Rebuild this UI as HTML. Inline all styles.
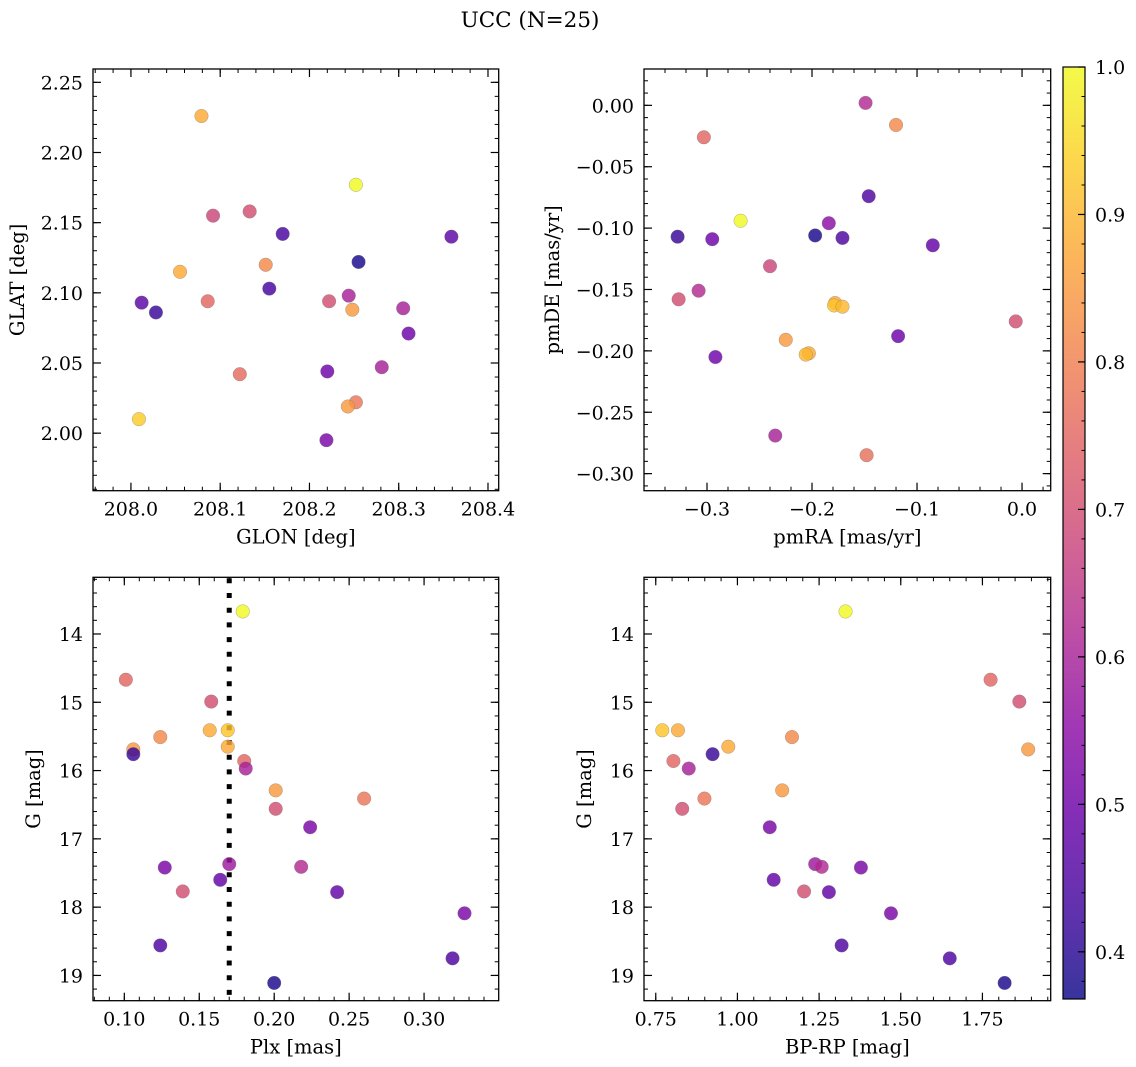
<!DOCTYPE html>
<html><head><meta charset="utf-8"><style>
html,body{margin:0;padding:0;background:#fff;}
svg{display:block;font-family:"DejaVu Serif","Liberation Serif",serif;}
</style></head><body>
<svg id="fig" width="1136" height="1067" viewBox="0 0 1136 1067">
<text x="530" y="27" font-size="21.5" text-anchor="middle">UCC (N=25)</text>
</svg>
<script>
// ---- data (top-left: GLON/GLAT) ----
const glon = [208.079,208.252,208.092,208.133,208.170,208.359,208.255,208.151,208.055,208.155,208.012,208.028,208.086,208.222,208.244,208.248,208.305,208.311,208.122,208.220,208.281,208.252,208.243,208.219,208.009];
const glat = [2.226,2.177,2.155,2.158,2.142,2.140,2.122,2.120,2.115,2.103,2.093,2.086,2.094,2.094,2.098,2.088,2.089,2.071,2.042,2.044,2.047,2.022,2.019,1.995,2.010];
const probA = [0.88,1.0,0.68,0.70,0.44,0.47,0.38,0.82,0.88,0.44,0.47,0.42,0.75,0.70,0.60,0.85,0.60,0.50,0.76,0.50,0.60,0.78,0.85,0.52,0.93];
// ---- data (top-right: pmRA/pmDE) ----
const pmra = [-0.149,-0.120,-0.303,-0.146,-0.268,-0.184,-0.328,-0.295,-0.197,-0.171,-0.085,-0.240,-0.308,-0.327,-0.178,-0.179,-0.171,-0.006,-0.118,-0.225,-0.203,-0.206,-0.292,-0.235,-0.148];
const pmde = [0.002,-0.016,-0.026,-0.074,-0.094,-0.096,-0.107,-0.109,-0.106,-0.108,-0.114,-0.131,-0.151,-0.158,-0.161,-0.163,-0.164,-0.176,-0.188,-0.191,-0.202,-0.203,-0.205,-0.269,-0.285];
const probB = [0.62,0.82,0.75,0.45,1.0,0.55,0.42,0.50,0.38,0.45,0.48,0.68,0.62,0.70,0.88,0.92,0.90,0.70,0.50,0.85,0.88,0.90,0.50,0.60,0.77];
// ---- data (bottom: Plx, G, BP-RP) ----
const plx  = [0.179,0.101,0.158,0.157,0.169,0.169,0.124,0.106,0.106,0.180,0.181,0.201,0.260,0.201,0.224,0.127,0.170,0.218,0.164,0.139,0.242,0.327,0.124,0.319,0.200];
const gmag = [13.67,14.67,14.99,15.41,15.41,15.65,15.51,15.69,15.76,15.86,15.97,16.29,16.41,16.56,16.83,17.42,17.37,17.41,17.60,17.77,17.78,18.09,18.56,18.75,19.11];
const bprp = [1.331,1.775,1.863,0.818,0.770,0.972,1.167,1.890,0.924,0.804,0.851,1.137,0.899,0.831,1.099,1.378,1.238,1.258,1.111,1.204,1.280,1.470,1.319,1.650,1.818];
const probC = [1.0,0.75,0.70,0.88,0.92,0.88,0.82,0.85,0.42,0.75,0.60,0.85,0.78,0.70,0.52,0.52,0.58,0.62,0.48,0.70,0.48,0.52,0.45,0.45,0.38];
const plxLine = [0.170];
const cbTicks = [0.4,0.5,0.6,0.7,0.8,0.9,1.0];
const cbRange = [0.368,1.0];

const NS='http://www.w3.org/2000/svg';
const svg=document.getElementById('fig');
function el(tag,attrs,parent){const e=document.createElementNS(NS,tag);for(const k in attrs)e.setAttribute(k,attrs[k]);(parent||svg).appendChild(e);return e;}
const stops=['#0d0887','#41049d','#6a00a8','#8f0da4','#b12a90','#cc4778','#e16462','#f2844b','#fca636','#fcce25','#f0f921'];
function hex(h){return [parseInt(h.substr(1,2),16),parseInt(h.substr(3,2),16),parseInt(h.substr(5,2),16)];}
function plasma(t){t=Math.max(0,Math.min(1,t));const f=t*10,i=Math.min(9,Math.floor(f)),u=f-i;const a=hex(stops[i]),b=hex(stops[i+1]);return 'rgb('+a.map((v,k)=>Math.round(v+(b[k]-v)*u)).join(',')+')';}
function cmap(p){return plasma((p-cbRange[0])/(cbRange[1]-cbRange[0]));}
const FT=19, FL=19.5;

function panel(o){
  const g=el('g',{});
  
  
  const sx=v=>o.L+(v-o.x0)/(o.x1-o.x0)*(o.R-o.L);
  const sy=v=>o.B-(v-o.y0)/(o.y1-o.y0)*(o.B-o.T);
  const eps=1e-9;
  function ticks(a,b,step){const r=[];let s=Math.ceil((Math.min(a,b)-eps)/step)*step;for(let v=s;v<=Math.max(a,b)+eps;v+=step)r.push(+v.toFixed(6));return r;}
  ticks(o.x0,o.x1,o.xmin).forEach(v=>{const x=sx(v);el('line',{x1:x,x2:x,y1:o.B,y2:o.B-4,stroke:'#000','stroke-width':1},g);el('line',{x1:x,x2:x,y1:o.T,y2:o.T+4,stroke:'#000','stroke-width':1},g);});
  ticks(o.y0,o.y1,o.ymin).forEach(v=>{const y=sy(v);el('line',{x1:o.L,x2:o.L+4,y1:y,y2:y,stroke:'#000','stroke-width':1},g);el('line',{x1:o.R,x2:o.R-4,y1:y,y2:y,stroke:'#000','stroke-width':1},g);});
  ticks(o.x0,o.x1,o.xmaj).forEach(v=>{const x=sx(v);el('line',{x1:x,x2:x,y1:o.B,y2:o.B-8,stroke:'#000','stroke-width':1.2},g);el('line',{x1:x,x2:x,y1:o.T,y2:o.T+8,stroke:'#000','stroke-width':1.2},g);
    const t=el('text',{x:x,y:o.B+25,'font-size':FT,'text-anchor':'middle'},g);t.textContent=o.xfmt(v);
    
    });
  ticks(o.y0,o.y1,o.ymaj).forEach(v=>{const y=sy(v);el('line',{x1:o.L,x2:o.L+8,y1:y,y2:y,stroke:'#000','stroke-width':1.2},g);el('line',{x1:o.R,x2:o.R-8,y1:y,y2:y,stroke:'#000','stroke-width':1.2},g);
    const t=el('text',{x:o.L-10,y:y+7,'font-size':FT,'text-anchor':'end'},g);t.textContent=o.yfmt(v);
    
    });
  const xl=el('text',{x:(o.L+o.R)/2,y:o.B+53,'font-size':FL,'text-anchor':'middle'},g);xl.textContent=o.xlabel;
  
  
  const yx=o.L-o.ylo,yy=(o.T+o.B)/2;
  const yl=el('text',{x:yx,y:yy,'font-size':FL,'text-anchor':'middle',transform:'rotate(-90 '+yx+' '+yy+')'},g);yl.textContent=o.ylabel;
  
  
  const cid='c'+o.name;const cp=el('clipPath',{id:cid},g);el('rect',{x:o.L,y:o.T,width:o.R-o.L,height:o.B-o.T},cp);
  const pg=el('g',{'clip-path':'url(#'+cid+')'},g);
  if(o.vline){o.vline.forEach(v=>{const ln=el('line',{x1:sx(v),x2:sx(v),y1:o.T,y2:o.B,stroke:'#000','stroke-width':5,'stroke-dasharray':'5 9.7','stroke-dashoffset':-1},pg);
    
    });}
  o.xs.forEach((xv,i)=>{const c=el('circle',{cx:sx(xv),cy:sy(o.ys[i]),r:6.8,fill:cmap(o.ps[i]),'fill-opacity':0.82,stroke:'#777','stroke-opacity':0.6,'stroke-width':0.5},pg);
    
    });
  el('rect',{x:o.L,y:o.T,width:o.R-o.L,height:o.B-o.T,fill:'none',stroke:'#000','stroke-width':1.3},g);
}
const f2=v=>v.toFixed(2), f1=v=>v.toFixed(1), f0=v=>v.toFixed(0);
panel({name:'glon-glat-panel',L:93,R:498.7,T:69,B:490.7,x0:207.9575,x1:208.412,y0:1.959,y1:2.2595,xmaj:0.1,xmin:0.02,ymaj:0.05,ymin:0.01,xfmt:f1,yfmt:f2,xlabel:'GLON [deg]',ylabel:'GLAT [deg]',ylo:69,xs:glon,ys:glat,ps:probA});
panel({name:'pm-panel',L:644,R:1050.7,T:69,B:490.7,x0:-0.36,x1:0.0273,y0:-0.3139,y1:0.0296,xmaj:0.1,xmin:0.02,ymaj:0.05,ymin:0.01,xfmt:f1,yfmt:v=>(Math.abs(v)<1e-9?'0.00':f2(v)),xlabel:'pmRA [mas/yr]',ylabel:'pmDE [mas/yr]',ylo:85,xs:pmra,ys:pmde,ps:probB});
panel({name:'plx-g-panel',L:93,R:498.7,T:577.3,B:1000.7,x0:0.0791,x1:0.3498,y0:19.37,y1:13.17,xmaj:0.05,xmin:0.01,ymaj:1,ymin:0.2,xfmt:f2,yfmt:f0,xlabel:'Plx [mas]',ylabel:'G [mag]',ylo:53,xs:plx,ys:gmag,ps:probC,vline:plxLine});
panel({name:'cmd-panel',L:644,R:1050.7,T:577.3,B:1000.7,x0:0.714,x1:1.959,y0:19.37,y1:13.17,xmaj:0.25,xmin:0.05,ymaj:1,ymin:0.2,xfmt:f2,yfmt:f0,xlabel:'BP-RP [mag]',ylabel:'G [mag]',ylo:53,xs:bprp,ys:gmag,ps:probC});
document.querySelectorAll('text').forEach(t=>{if(/^-\d/.test(t.textContent))t.textContent='\u2212'+t.textContent.slice(1);});

// ---- colorbar ----
const cb=el('g',{});


const CL=1063,CR=1085,CT=67,CB=999;
const grad=el('linearGradient',{id:'cbg',x1:0,y1:1,x2:0,y2:0},cb);
for(let i=0;i<=20;i++){el('stop',{offset:i/20,'stop-color':plasma(i/20)},grad);}
el('rect',{x:CL,y:CT,width:CR-CL,height:CB-CT,fill:'url(#cbg)','fill-opacity':0.82},cb);
el('rect',{x:CL,y:CT,width:CR-CL,height:CB-CT,fill:'none',stroke:'#000','stroke-width':1.2},cb);
const cy=v=>CB-(v-cbRange[0])/(cbRange[1]-cbRange[0])*(CB-CT);
for(let v=0.38;v<=1.0001;v+=0.02){el('line',{x1:CR,x2:CR-3.5,y1:cy(v),y2:cy(v),stroke:'#000','stroke-width':1},cb);}
cbTicks.forEach(v=>{const y=cy(v);el('line',{x1:CR,x2:CR-7,y1:y,y2:y,stroke:'#000','stroke-width':1.2},cb);
  const t=el('text',{x:CR+10,y:y+7,'font-size':FT},cb);t.textContent=v.toFixed(1);
  
  });
</script>
</body></html>
